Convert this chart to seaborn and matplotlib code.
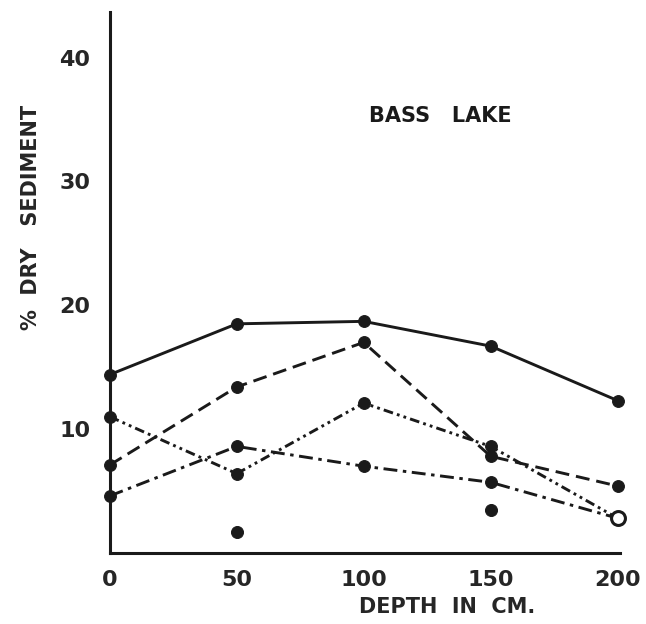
import matplotlib
matplotlib.use("Agg")
import matplotlib.pyplot as plt
import seaborn as sns
import pandas as pd

depth = [0, 50, 100, 150, 200]
solid_vals = [14.4, 18.5, 18.7, 16.7, 12.3]
dashed_vals = [7.1, 13.4, 17.0, 7.8, 5.4]
dashdotdot_vals = [11.0, 6.4, 12.1, 8.6, 2.8]
dashdot_vals = [4.6, 8.6, 7.0, 5.7, 2.8]
iso_x = [50, 150]
iso_y = [1.7, 3.5]
open_x = [200]
open_y = [2.8]
xticks = [0, 50, 100, 150, 200]
yticks = [10, 20, 30, 40]

sns.set_style("white")
plt.rcParams['font.family'] = ['DejaVu Sans']
plt.rcParams['lines.scale_dashes'] = False

fig = plt.figure(figsize=(6.46, 6.24), dpi=100)
ax = fig.add_axes([0.170, 0.114, 0.790, 0.867])

styles = [
    (solid_vals, '-'),
    (dashed_vals, (0, (10, 5))),
    (dashdotdot_vals, (0, (7, 3, 2, 3, 2, 3))),
    (dashdot_vals, (0, (10, 4, 2.5, 4))),
]
for vals, ls in styles:
    sns.lineplot(x=depth, y=vals, ax=ax, color='#1a1a1a', linewidth=2.1,
                 linestyle=ls, marker='o', markersize=8.5,
                 markerfacecolor='#1a1a1a', markeredgecolor='#1a1a1a', clip_on=False)

sns.scatterplot(x=iso_x, y=iso_y, ax=ax, color='#1a1a1a', s=75, edgecolor='#1a1a1a',
                zorder=5, clip_on=False)
sns.scatterplot(x=open_x, y=open_y, ax=ax, color='white', s=100, edgecolor='#1a1a1a',
                linewidth=2.2, zorder=6, clip_on=False)

ax.set_xlim(0, 201)
ax.set_ylim(0, 43.7)
ax.set_xticks(xticks)
ax.set_yticks(yticks)
ax.set_xticklabels([str(t) for t in xticks], fontsize=16, fontweight='bold')
ax.set_yticklabels([str(t) for t in yticks], fontsize=16, fontweight='bold')
ax.tick_params(axis='both', direction='in', length=5, width=1.8, color='#1a1a1a')
ax.tick_params(axis='x', pad=12)
ax.tick_params(axis='y', pad=14)

for s in ['top', 'right']:
    ax.spines[s].set_visible(False)
for s in ['left', 'bottom']:
    ax.spines[s].set_linewidth(2.2)
    ax.spines[s].set_color('#1a1a1a')

ax.set_xlabel('DEPTH  IN  CM.', fontsize=15, fontweight='bold')
ax.set_ylabel('%  DRY   SEDIMENT', fontsize=15, fontweight='bold')
ax.yaxis.set_label_coords(-0.135, 0.62)
ax.xaxis.set_label_coords(0.66, -0.082)

ax.text(130, 35.3, 'BASS   LAKE', fontsize=15, fontweight='bold', ha='center', va='center',
        color='#1a1a1a')

fig.savefig('out.png', dpi=100)
